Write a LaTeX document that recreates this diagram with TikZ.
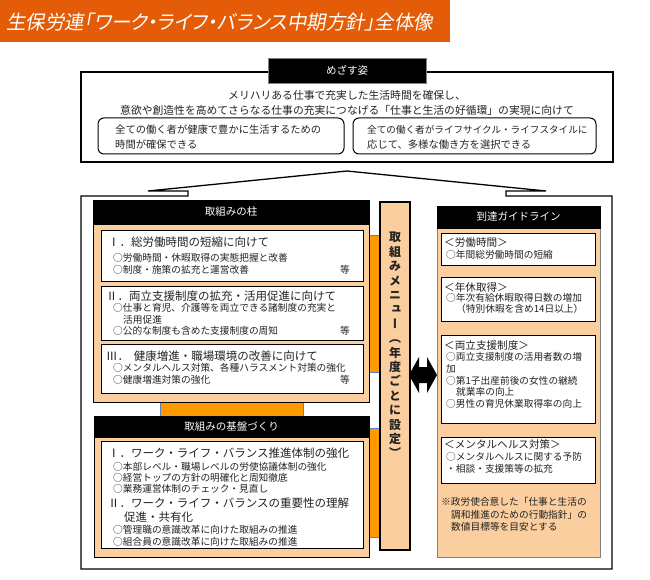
\documentclass[tikz,border=0pt]{standalone}
\usepackage{fontspec}
\setmainfont{Noto Sans CJK JP}
\newfontfamily\titlefont[FakeSlant=0.18,RawFeature=+palt]{Noto Sans CJK JP}
\newfontfamily\vertfont[RawFeature=+vert]{Noto Sans CJK JP}
\definecolor{banner}{RGB}{228,92,8}
\definecolor{peach}{RGB}{250,206,158}
\definecolor{strip}{RGB}{255,153,0}
\definecolor{txt}{RGB}{35,35,35}
\definecolor{stripedge}{RGB}{90,130,190}
\tikzset{
  frame/.style={draw=black, line width=1.3pt},
  hdr/.style={fill=black, draw=black, line width=0.8pt},
  hdrtext/.style={text=white, inner sep=0pt, font=\fontsize{10.5}{12}\selectfont},
  panel/.style={fill=peach, draw=black, line width=0.9pt},
  rpanel/.style={fill=peach, draw=gray, line width=0.9pt},
  wbox/.style={fill=white, draw=black, line width=1pt},
  stripbox/.style={fill=strip, draw=stripedge, line width=0.4pt},
  itm/.style={anchor=west, inner sep=0pt, text=txt, font=\fontsize{9.7}{11}\selectfont},
  ttl/.style={anchor=west, inner sep=0pt, text=txt, font=\fontsize{11.5}{13}\selectfont},
  rh/.style={anchor=west, inner sep=0pt, text=txt, font=\fontsize{10.6}{12}\selectfont},
  toptxt/.style={inner sep=0pt, text=txt, font=\fontsize{10.8}{12}\selectfont},
  rtxt/.style={anchor=west, inner sep=0pt, text=txt, font=\fontsize{10.3}{12}\selectfont},
}
\begin{document}
\begin{tikzpicture}[x=1pt,y=-1pt]
\useasboundingbox (0,0) rectangle (650,580);
% banner
\fill[banner] (0,0) rectangle (450,42);
\node[anchor=west, inner sep=0pt, text=white, font=\titlefont\fontsize{19.5}{22}\selectfont] (title) at (6,22) {生保労連「ワーク・ライフ・バランス中期方針」全体像};

% top box
\draw[frame] (81,72) rectangle (613,162);
\node[hdr, draw=gray, minimum width=158pt, minimum height=25pt, inner sep=0pt] (goal) at (347,70.5) {};
\node[hdrtext] (goaltext) at (goal.center) {めざす姿};
\node[toptxt] (top1) at (347,95) {メリハリある仕事で充実した生活時間を確保し、};
\node[toptxt] (top2) at (347,110) {意欲や創造性を高めてさらなる仕事の充実につなげる「仕事と生活の好循環」の実現に向けて};
\draw[black, line width=1pt, rounded corners=6pt] (98,118) rectangle (344,154);
\draw[black, line width=1pt, rounded corners=6pt] (353,118) rectangle (596,154);
\node[rtxt] (l1) at (115,130) {全ての働く者が健康で豊かに生活するための};
\node[rtxt] (l2) at (115,145) {時間が確保できる};
\node[rtxt, font=\fontsize{9.6}{12}\selectfont] (r1) at (367,130) {全ての働く者がライフサイクル・ライフスタイルに};
\node[rtxt] (r2) at (367,145) {応じて、多様な働き方を選択できる};

% bottom frame with roof (up arrow callout)
\draw[frame, line join=miter] (188,196) -- (188,191) -- (148,191) -- (347,171) -- (546,191) -- (506,191) -- (506,196)
  -- (612,196) -- (612,569) -- (81,569) -- (81,196) -- cycle;

% strips
\draw[stripbox] (365,235) rectangle (381,372);
\draw[stripbox] (365,428) rectangle (381,537);
\draw[stripbox] (160,400) rectangle (303,418);

% pillars
\draw[panel] (93,224) rectangle (369,402);
\node[hdr, minimum width=276pt, minimum height=24pt, inner sep=0pt] (h1) at (231,212) {};
\node[hdrtext] (h1t) at (h1.center) {取組みの柱};
\draw[wbox] (101,230) rectangle (363,281);
\draw[wbox] (101,286) rectangle (363,340);
\draw[wbox] (101,344) rectangle (363,393);
\node[ttl] (p1t) at (108,242) {Ⅰ．総労働時間の短縮に向けて};
\node[itm] (p1a) at (113,258) {○労働時間・休暇取得の実態把握と改善};
\node[itm] (p1b) at (113,270) {○制度・施策の拡充と運営改善};
\node[itm, anchor=east] (p1e) at (350,270) {等};
\node[ttl] (p2t) at (106,296) {Ⅱ．両立支援制度の拡充・活用促進に向けて};
\node[itm] (p2a) at (113,308) {○仕事と育児、介護等を両立できる諸制度の充実と};
\node[itm] (p2b) at (123,320) {活用促進};
\node[itm] (p2c) at (113,331) {○公的な制度も含めた支援制度の周知};
\node[itm, anchor=east] (p2e) at (350,331) {等};
\node[ttl] (p3t) at (106,356) {Ⅲ．\hspace{0.4em}健康増進・職場環境の改善に向けて};
\node[itm] (p3a) at (113,368) {○メンタルヘルス対策、各種ハラスメント対策の強化};
\node[itm] (p3b) at (113,380) {○健康増進対策の強化};
\node[itm, anchor=east] (p3e) at (350,380) {等};

% base
\draw[panel] (94,437) rectangle (369,557);
\node[hdr, minimum width=275pt, minimum height=21pt, inner sep=0pt] (h2) at (231.5,426.5) {};
\node[hdrtext] (h2t) at (h2.center) {取組みの基盤づくり};
\draw[wbox] (101,441) rectangle (363,548);
\node[ttl] (b1t) at (108,453) {Ⅰ．ワーク・ライフ・バランス推進体制の強化};
\node[itm] (b1a) at (113,467) {○本部レベル・職場レベルの労使協議体制の強化};
\node[itm] (b1b) at (113,478) {○経営トップの方針の明確化と周知徹底};
\node[itm] (b1c) at (113,489) {○業務運営体制のチェック・見直し};
\node[ttl] (b2t) at (108,503) {Ⅱ．ワーク・ライフ・バランスの重要性の理解};
\node[ttl] (b2u) at (124,517) {促進・共有化};
\node[itm] (b2a) at (113,530) {○管理職の意識改革に向けた取組みの推進};
\node[itm] (b2b) at (113,542) {○組合員の意識改革に向けた取組みの推進};

% menu column
\draw[panel, line width=1.2pt] (380,202) rectangle (410,550);
\node[inner sep=0pt, align=center, text=txt, font=\vertfont\bfseries\fontsize{12}{14.4}\selectfont] (menu) at (395,345)
  {取\\組\\み\\メ\\ニ\\ュ\\ー\\（\\年\\度\\ご\\と\\に\\設\\定\\）};

% double arrow
\fill[black] (409,375) -- (419,357) -- (419,367) -- (427,367) -- (427,357) -- (437,375)
  -- (427,393) -- (427,383) -- (419,383) -- (419,393) -- cycle;

% guideline
\draw[rpanel] (437,228) rectangle (600,557);
\node[hdr, minimum width=163pt, minimum height=22pt, inner sep=0pt] (h3) at (518.5,217) {};
\node[hdrtext] (h3t) at (h3.center) {到達ガイドライン};
\draw[wbox] (441,233) rectangle (595,265);
\draw[wbox] (441,277) rectangle (595,321);
\draw[wbox] (441,335) rectangle (595,423);
\draw[wbox] (441,437) rectangle (595,483);
\node[rh] (g1h) at (444,242) {＜労働時間＞};
\node[itm] (g1a) at (446,255) {○年間総労働時間の短縮};
\node[rh] (g2h) at (444,287) {＜年休取得＞};
\node[itm] (g2a) at (446,298) {○年次有給休暇取得日数の増加};
\node[itm] (g2b) at (456,309) {（特別休暇を含め14日以上）};
\node[rh] (g3h) at (444,345) {＜両立支援制度＞};
\node[itm] (g3a) at (446,357) {○両立支援制度の活用者数の増};
\node[itm] (g3b) at (446,369) {加};
\node[itm] (g3c) at (446,381) {○第1子出産前後の女性の継続};
\node[itm] (g3d) at (456,392) {就業率の向上};
\node[itm] (g3e) at (446,404) {○男性の育児休業取得率の向上};
\node[rh] (g4h) at (444,444) {＜メンタルヘルス対策＞};
\node[itm] (g4a) at (446,457) {○メンタルヘルスに関する予防};
\node[itm] (g4b) at (446,469) {・相談・支援策等の拡充};
\node[itm] (n1) at (441,502) {※政労使合意した「仕事と生活の};
\node[itm] (n2) at (451,515) {調和推進のための行動指針」の};
\node[itm] (n3) at (451,527) {数値目標等を目安とする};
\end{tikzpicture}
\end{document}
